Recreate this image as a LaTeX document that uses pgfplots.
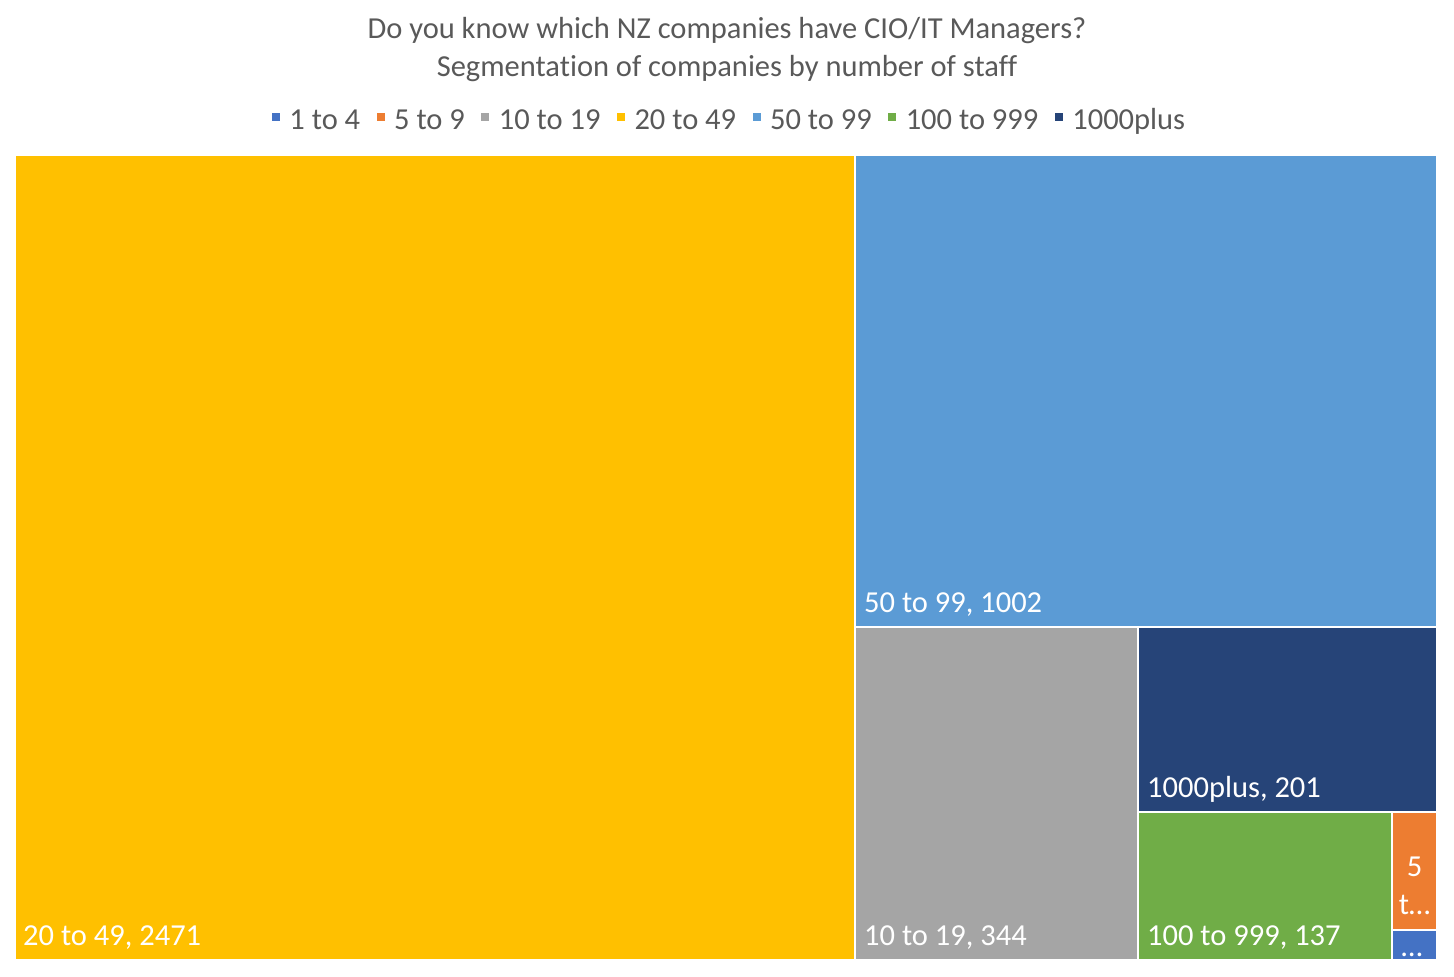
\documentclass[border=0pt]{standalone}
\usepackage{fontspec}
\setmainfont{Carlito}[Ligatures=CommonOff]
\usepackage{pgfplots}
\pgfplotsset{compat=1.18}
\definecolor{cA}{HTML}{4472C4}
\definecolor{cB}{HTML}{ED7D31}
\definecolor{cC}{HTML}{A5A5A5}
\definecolor{cD}{HTML}{FFC000}
\definecolor{cE}{HTML}{5B9BD5}
\definecolor{cF}{HTML}{70AD47}
\definecolor{cG}{HTML}{264478}
\definecolor{txtgray}{HTML}{595959}
\newcommand{\bigfont}{\fontsize{30.5}{36}\selectfont}
\begin{document}
\begin{tikzpicture}[x=1pt,y=1pt]
\useasboundingbox (0,0) rectangle (1454,977);
\begin{axis}[
  at={(15pt,17pt)}, anchor=south west,
  scale only axis, width=1422pt, height=805pt,
  xmin=15, xmax=1437, ymin=17, ymax=822,
  hide axis, clip=false,
  legend columns=-1,
  legend cell align=left,
  legend style={draw=none, fill=none, text=txtgray, font=\bigfont,
    at={(0.5025,1.0435)}, anchor=center,
    /tikz/every odd column/.append style={column sep=7.5pt},
    /tikz/every even column/.append style={column sep=14.5pt}},
  legend image code/.code={\fill[#1,draw=none] (0pt,-1pt) rectangle (8pt,7pt);},
]
% 1 to 4
\addplot[fill=cA, draw=white, line width=2pt] coordinates {(1392,17) (1437,17) (1437,47) (1392,47) (1392,17)};
\addlegendentry{1 to 4}
% 5 to 9
\addplot[fill=cB, draw=white, line width=2pt] coordinates {(1392,47) (1437,47) (1437,165) (1392,165) (1392,47)};
\addlegendentry{5 to 9}
% 10 to 19
\addplot[fill=cC, draw=white, line width=2pt] coordinates {(855,17) (1138,17) (1138,350) (855,350) (855,17)};
\addlegendentry{10 to 19}
% 20 to 49
\addplot[fill=cD, draw=white, line width=2pt] coordinates {(15,17) (855,17) (855,822) (15,822) (15,17)};
\addlegendentry{20 to 49}
% 50 to 99
\addplot[fill=cE, draw=white, line width=2pt] coordinates {(855,350) (1437,350) (1437,822) (855,822) (855,350)};
\addlegendentry{50 to 99}
% 100 to 999
\addplot[fill=cF, draw=white, line width=2pt] coordinates {(1138,17) (1392,17) (1392,165) (1138,165) (1138,17)};
\addlegendentry{100 to 999}
% 1000plus
\addplot[fill=cG, draw=white, line width=2pt] coordinates {(1138,165) (1437,165) (1437,350) (1138,350) (1138,165)};
\addlegendentry{1000plus}

\node[anchor=base west, text=white, font=\bigfont, inner sep=0pt] at (axis cs:23,31) {20 to 49, 2471};
\node[anchor=base west, text=white, font=\bigfont, inner sep=0pt] at (axis cs:864,364) {50 to 99, 1002};
\node[anchor=base west, text=white, font=\bigfont, inner sep=0pt] at (axis cs:864,31) {10 to 19, 344};
\node[anchor=base west, text=white, font=\bigfont, inner sep=0pt] at (axis cs:1147,179) {1000plus, 201};
\node[anchor=base west, text=white, font=\bigfont, inner sep=0pt] at (axis cs:1147,31) {100 to 999, 137};
\node[anchor=base, text=white, font=\bigfont, inner sep=0pt] at (axis cs:1414.5,100) {5};
\node[anchor=base, text=white, font=\bigfont, inner sep=0pt] at (axis cs:1414.5,62) {t\ldots};
\node[anchor=base, text=white, font=\bigfont, inner sep=0pt] at (axis cs:1412,20) {\ldots};
\end{axis}
\node[text=txtgray, font=\bigfont, inner sep=0pt] at (727,946) {Do you know which NZ companies have CIO/IT Managers?};
\node[text=txtgray, font=\bigfont, inner sep=0pt] at (727,908) {Segmentation of companies by number of staff};
\end{tikzpicture}
\end{document}
